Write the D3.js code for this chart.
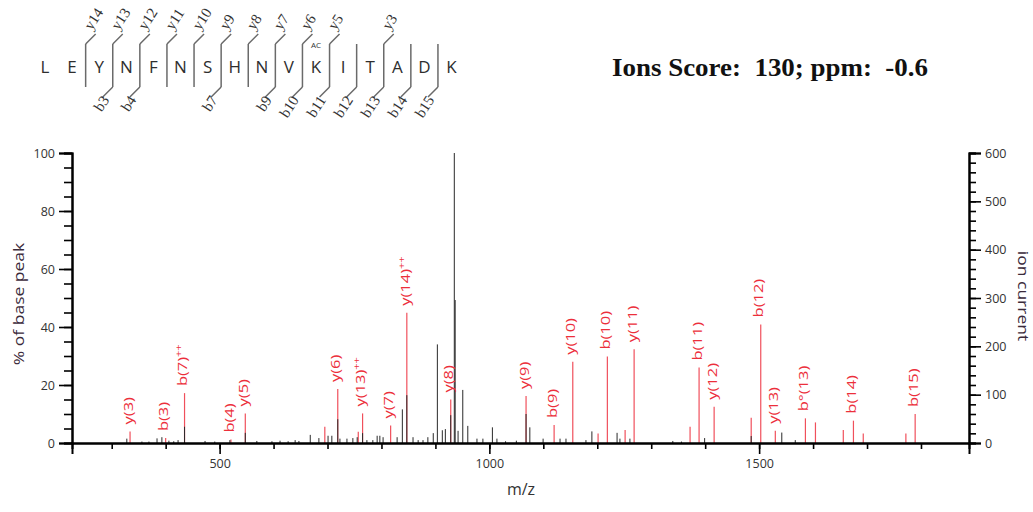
<!DOCTYPE html>
<html>
<head>
<meta charset="utf-8">
<script src="https://cdn.jsdelivr.net/npm/d3@7"></script>
<style>
  body { margin: 0; background: #fff; }
  svg { display: block; }
</style>
</head>
<body>
<svg id="chart" width="1033" height="512"></svg>
<script>
// peptide + fragment sites
const sequence = "LEYNFNSHNVKITADK".split("");
const yIons = [14, 13, 12, 11, 10, 9, 8, 7, 6, 5, 3];
const bIons = [3, 4, 7, 9, 10, 11, 12, 13, 14, 15];

// matched (labelled) peaks: label, charge mark, m/z, % of base peak
const matchLabels = ["y(3)", "b(3)", "b(7)", "b(4)", "y(5)", "y(6)", "y(13)", "y(7)", "y(14)", "y(8)", "y(9)", "b(9)", "y(10)", "b(10)", "y(11)", "b(11)", "y(12)", "b(12)", "y(13)", "b°(13)", "b(14)", "b(15)"];
const matchCharge = ["", "", "++", "", "", "", "++", "", "++", "", "", "", "", "", "", "", "", "", "", "", "", ""];
const matchMz = [334, 400, 435, 521, 547.6, 719, 765, 817, 847, 928.4, 1068, 1120, 1154.6, 1218.7, 1268.3, 1388.7, 1416.6, 1503, 1530, 1585.8, 1674.8, 1789.2];
const matchPct = [4.0, 1.7, 17.2, 1.2, 10.2, 18.6, 10.2, 6.0, 44.9, 15.0, 16.2, 6.2, 28.0, 29.8, 32.3, 26.0, 12.5, 40.9, 4.2, 8.5, 7.7, 10.0];

// other matched peaks without a label
const redMz = [695, 757, 1201.5, 1251.6, 1372, 1485.3, 1604.4, 1656, 1693, 1772];
const redPct = [5.6, 3.9, 3.3, 4.5, 5.6, 8.7, 7.1, 4.5, 3.3, 3.3];

// unmatched peaks
const blackMz = [328, 356, 369, 384, 393, 406, 415, 423, 435, 473, 491, 519, 547.6, 569, 597, 612, 627, 640, 647, 668, 684, 701, 708, 719, 723, 736, 747, 755, 765, 773, 784, 792, 797, 803, 829, 838.7, 847, 858.5, 868, 877, 886, 896, 903.6, 912.8, 918.4, 928.4, 935, 936.6, 942, 950.7, 960, 977, 988, 1005.6, 1014, 1030, 1050, 1068, 1075, 1099.6, 1131, 1142, 1179, 1190, 1236.7, 1242, 1260.5, 1340, 1356, 1399, 1485.3, 1542, 1567];
const blackPct = [1.5, 0.5, 0.5, 1.6, 2.0, 0.8, 0.6, 1.0, 5.6, 0.7, 0.5, 1.0, 3.5, 0.7, 0.6, 0.8, 0.6, 1.0, 0.7, 2.8, 1.7, 2.5, 2.5, 8.2, 1.5, 1.5, 1.7, 2.0, 3.4, 1.0, 1.0, 2.5, 2.5, 2.0, 2.0, 11.6, 16.5, 2.0, 1.0, 1.0, 2.0, 3.4, 34, 4.4, 4.8, 9.6, 100, 49.3, 4.2, 18.3, 5.9, 1.5, 1.5, 5.4, 1.5, 0.6, 0.8, 10, 5.4, 1.5, 1.5, 1.5, 1.0, 4.0, 3.5, 1.5, 1.5, 0.7, 0.5, 1.7, 2.4, 3.6, 1.0];

const leftTicks = [0, 20, 40, 60, 80, 100];
const rightTicks = [0, 100, 200, 300, 400, 500, 600];
const xLabelTicks = [500, 1000, 1500];

const svg = d3.select("#chart");
const uiFont = "'Open Sans', 'DejaVu Sans', sans-serif";
const serif = "'Liberation Serif', 'Times New Roman', serif";
const red = "#ec2f3b";

// ---- sequence diagram
const seqX0 = 45, pitch = 27.1, letterY = 67;
const seqG = svg.append("g");
seqG.selectAll("text.res")
  .data(sequence)
  .join("text")
  .attr("class", "res")
  .attr("x", (d, i) => seqX0 + i * pitch)
  .attr("y", letterY)
  .attr("dy", "0.36em")
  .attr("text-anchor", "middle")
  .style("font-family", uiFont)
  .style("font-size", "17px")
  .attr("fill", "#2e2e2e")
  .text((d) => d);

seqG.append("text")
  .attr("x", seqX0 + 10 * pitch)
  .attr("y", 48)
  .attr("text-anchor", "middle")
  .style("font-family", uiFont)
  .style("font-size", "8px")
  .attr("fill", "#333")
  .text("AC");

const siteX = (i) => seqX0 + (i - 0.5) * pitch;
const sites = d3.union(yIons.map((n) => sequence.length - n), bIons);
const lineTop = 44, lineBot = 87;

seqG.selectAll("line.site")
  .data([...sites])
  .join("line")
  .attr("x1", (d) => siteX(d)).attr("x2", (d) => siteX(d))
  .attr("y1", lineTop).attr("y2", lineBot)
  .attr("stroke", "#6a6a6a").attr("stroke-width", 1.5);

// y ions: hook up-right
yIons.forEach((n) => {
  const x = siteX(sequence.length - n);
  seqG.append("path")
    .attr("d", `M${x},${lineTop}L${x + 10},${lineTop - 10}`)
    .attr("stroke", "#6a6a6a").attr("stroke-width", 1.5).attr("fill", "none");
  seqG.append("text")
    .attr("transform", `translate(${x + 6},${lineTop - 13}) rotate(-57)`)
    .style("font-family", serif)
    .style("font-size", "15px")
    .attr("fill", "#333")
    .text("y" + n);
});

// b ions: hook down-left
bIons.forEach((n) => {
  const x = siteX(n);
  seqG.append("path")
    .attr("d", `M${x},${lineBot}L${x - 10},${lineBot + 10}`)
    .attr("stroke", "#6a6a6a").attr("stroke-width", 1.5).attr("fill", "none");
  seqG.append("text")
    .attr("transform", `translate(${x - 3},${lineBot + 13}) rotate(-57)`)
    .attr("text-anchor", "end")
    .style("font-family", serif)
    .style("font-size", "15px")
    .attr("fill", "#333")
    .text("b" + n);
});

// ---- title
svg.append("text")
  .attr("x", 612)
  .attr("y", 76)
  .attr("textLength", 316)
  .attr("lengthAdjust", "spacingAndGlyphs")
  .style("font-family", serif)
  .style("font-size", "26px")
  .style("font-weight", "bold")
  .style("white-space", "pre")
  .attr("fill", "#111")
  .text("Ions Score:  130; ppm:  -0.6");

// ---- spectrum
const plotL = 72, plotR = 969, plotT = 153, plotB = 443;
const x = d3.scaleLinear().domain([226.4, 1889]).range([plotL, plotR]);
const y = d3.scaleLinear().domain([0, 100]).range([plotB, plotT]);
const yR = d3.scaleLinear().domain([0, 600]).range([plotB, plotT]);

const redPeaks = matchMz.map((m, i) => ({ mz: m, pct: matchPct[i] }))
  .concat(redMz.map((m, i) => ({ mz: m, pct: redPct[i] })));
const blackPeaks = blackMz.map((m, i) => ({ mz: m, pct: blackPct[i] }));

svg.append("g").selectAll("line")
  .data(redPeaks)
  .join("line")
  .attr("x1", (d) => x(d.mz)).attr("x2", (d) => x(d.mz))
  .attr("y1", plotB).attr("y2", (d) => y(d.pct))
  .attr("stroke", "#f0505c").attr("stroke-width", 1.2);

svg.append("g").selectAll("line")
  .data(blackPeaks)
  .join("line")
  .attr("x1", (d) => x(d.mz)).attr("x2", (d) => x(d.mz))
  .attr("y1", plotB).attr("y2", (d) => y(d.pct))
  .attr("stroke", "#2a2a2a").attr("stroke-width", 1);

// peak labels, rotated and slightly stretched like the original
const labelG = svg.append("g")
  .style("font-family", uiFont)
  .style("font-size", "13.5px")
  .attr("fill", red);
matchLabels.forEach((lab, i) => {
  const t = labelG.append("text")
    .attr("transform", `translate(${x(matchMz[i])},${y(matchPct[i]) - 7}) rotate(-90) scale(1.22,1)`)
    .attr("dy", "0.2em")
    .text(lab);
  if (matchCharge[i]) {
    t.append("tspan")
      .attr("dy", "-0.55em")
      .style("font-size", "9px")
      .text(matchCharge[i]);
  }
});

// axes
const axisStyle = (g) => {
  g.select(".domain").attr("stroke", "#000").attr("stroke-width", 2);
  g.selectAll(".tick line").attr("stroke", "#000").attr("stroke-width", 1.6);
  g.selectAll(".tick text").attr("fill", "#333").style("font-family", uiFont).style("font-size", "12.5px");
};

svg.append("g")
  .attr("transform", `translate(${plotL},0)`)
  .call(d3.axisLeft(y).tickValues(d3.range(0, 101, 5)).tickSize(8).tickFormat(""))
  .call(axisStyle);
svg.append("g")
  .attr("transform", `translate(${plotL},0)`)
  .call(d3.axisLeft(y).tickValues(leftTicks).tickSize(13).tickPadding(4))
  .call(axisStyle);

svg.append("g")
  .attr("transform", `translate(${plotR},0)`)
  .call(d3.axisRight(yR).tickValues(d3.range(0, 601, 20)).tickSize(7).tickFormat(""))
  .call(axisStyle);
svg.append("g")
  .attr("transform", `translate(${plotR},0)`)
  .call(d3.axisRight(yR).tickValues(rightTicks).tickSize(12).tickPadding(4))
  .call(axisStyle);

svg.append("g")
  .attr("transform", `translate(0,${plotB})`)
  .call(d3.axisBottom(x).tickValues(d3.range(300, 1900, 100)).tickSize(6).tickFormat(""))
  .call(axisStyle);
svg.append("g")
  .attr("transform", `translate(0,${plotB})`)
  .call(d3.axisBottom(x).tickValues(xLabelTicks).tickSize(11).tickPadding(5).tickFormat(d3.format("d")))
  .call(axisStyle);

// axis titles
svg.append("text")
  .attr("transform", `translate(24,${(plotT + plotB) / 2 + 6}) rotate(-90) scale(1.25,1)`)
  .attr("text-anchor", "middle")
  .style("font-family", uiFont)
  .style("font-size", "14px")
  .attr("fill", "#3a2a3a")
  .text("% of base peak");

svg.append("text")
  .attr("transform", `translate(1018,296) rotate(90) scale(1.25,1)`)
  .attr("text-anchor", "middle")
  .style("font-family", uiFont)
  .style("font-size", "14px")
  .attr("fill", "#3a2a3a")
  .text("ion current");

svg.append("text")
  .attr("x", 521)
  .attr("y", 495)
  .attr("text-anchor", "middle")
  .style("font-family", uiFont)
  .style("font-size", "16px")
  .attr("fill", "#333")
  .text("m/z");
</script>
</body>
</html>
